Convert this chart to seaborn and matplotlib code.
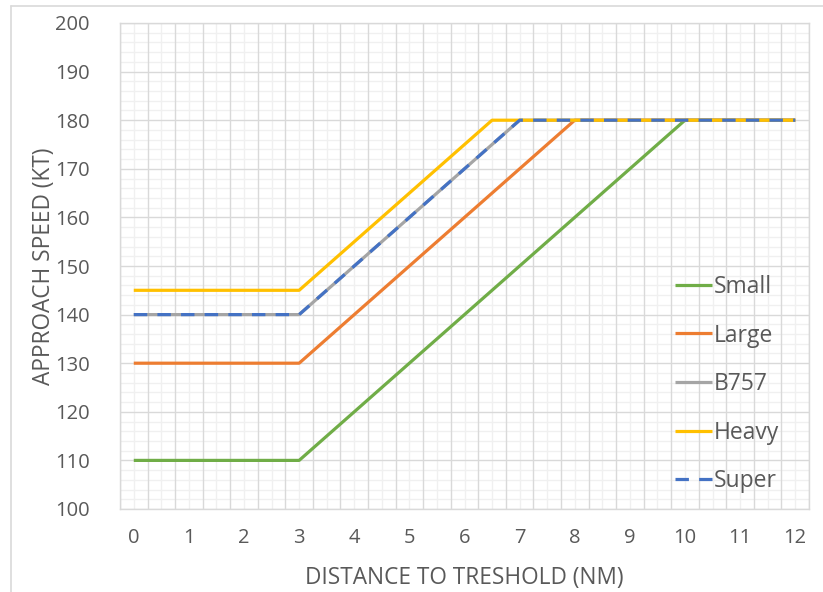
import matplotlib
matplotlib.use("Agg")
import matplotlib.pyplot as plt
import matplotlib.lines as mlines
import numpy as np
import pandas as pd
import seaborn as sns

# Approach speed profiles per wake category (distance in NM, speed in KT)
categories = ["Small", "Large", "B757", "Heavy", "Super"]
distance_small = [0, 3, 10, 12]
speed_small = [110, 110, 180, 180]
distance_large = [0, 3, 8, 12]
speed_large = [130, 130, 180, 180]
distance_b757 = [0, 3, 7, 12]
speed_b757 = [140, 140, 180, 180]
distance_heavy = [0, 3, 6.5, 12]
speed_heavy = [145, 145, 180, 180]
distance_super = [0, 3, 7, 12]
speed_super = [140, 140, 180, 180]

x_ticks = list(range(0, 13))
y_ticks = list(range(100, 201, 10))

colors = {
    "Small": "#70AD47",
    "Large": "#ED7D31",
    "B757": "#A5A5A5",
    "Heavy": "#FFC000",
    "Super": "#4472C4",
}
dash_map = {"Small": "", "Large": "", "B757": "", "Heavy": "", "Super": (4.2, 3.2)}

series = {
    "Small": (distance_small, speed_small),
    "Large": (distance_large, speed_large),
    "B757": (distance_b757, speed_b757),
    "Heavy": (distance_heavy, speed_heavy),
    "Super": (distance_super, speed_super),
}
df = pd.concat(
    [pd.DataFrame({"distance": d, "speed": s, "category": name})
     for name, (d, s) in series.items()],
    ignore_index=True,
)

sns.set_theme(style="white")
plt.rcParams["font.family"] = ["Open Sans", "DejaVu Sans"]
text_color = "#595959"
grid_major = "#D9D9D9"
grid_minor = "#F0F0F0"

W, H = 823, 592
fig = plt.figure(figsize=(W / 100, H / 100), dpi=100)
ax = fig.add_axes([120 / W, 1 - 509 / H, (809 - 120) / W, (509 - 23) / H])

# outer chart frame (top and left edges)
fig.add_artist(mlines.Line2D([10.5 / W, 1], [1 - 5.5 / H] * 2, color=grid_major, lw=1.2,
                             transform=fig.transFigure))
fig.add_artist(mlines.Line2D([10.5 / W] * 2, [0, 1 - 5.5 / H], color=grid_major, lw=1.2,
                             transform=fig.transFigure))

ax.set_xlim(-0.25, 12.25)
ax.set_ylim(100, 200)

# gridlines
for xv in np.arange(0, 12.01, 0.5):
    ax.axvline(xv, color=grid_minor, lw=1.0, zorder=0)
for xv in np.arange(-0.25, 12.26, 0.5):
    ax.axvline(xv, color=grid_major, lw=1.0, zorder=0.5)
for yv in np.arange(100, 201, 2):
    if yv % 10:
        ax.axhline(yv, color=grid_minor, lw=1.0, zorder=0)
for yv in y_ticks:
    ax.axhline(yv, color=grid_major, lw=1.0, zorder=0.5)

sns.lineplot(
    data=df, x="distance", y="speed", hue="category", style="category",
    hue_order=categories, style_order=categories, palette=colors, dashes=dash_map,
    linewidth=2.3, legend=False, ax=ax, estimator=None, sort=False,
)
for line in ax.get_lines()[-5:]:
    line.set_solid_capstyle("butt")
    line.set_dash_capstyle("butt")
    line.set_zorder(3)

ax.set_xticks(x_ticks)
ax.set_xticklabels([str(v) for v in x_ticks])
ax.set_yticks(y_ticks)
ax.tick_params(axis="both", length=0, labelsize=14.5, colors=text_color)
ax.tick_params(axis="x", pad=14)
ax.tick_params(axis="y", pad=22)
for spine in ax.spines.values():
    spine.set_color(grid_major)
    spine.set_linewidth(1.0)

ax.set_xlabel("DISTANCE TO TRESHOLD (NM)", fontsize=16.3, color=text_color, labelpad=13)
ax.set_ylabel("APPROACH SPEED (KT)", fontsize=16.3, color=text_color, labelpad=-1)

handles = []
for name in categories:
    h = mlines.Line2D([], [], color=colors[name], lw=2.3,
                      linestyle=(0, dash_map[name]) if dash_map[name] else "-")
    h.set_solid_capstyle("butt")
    h.set_dash_capstyle("butt")
    handles.append(h)
leg = ax.legend(
    handles, categories, loc="upper left", frameon=False,
    bbox_to_anchor=(675 / W, 1 - 275 / H), bbox_transform=fig.transFigure,
    fontsize=16.5, labelcolor=text_color, handlelength=1.6, handletextpad=0.1,
    labelspacing=1.07, borderaxespad=0, borderpad=0,
)

fig.savefig("out.png", dpi=100)
